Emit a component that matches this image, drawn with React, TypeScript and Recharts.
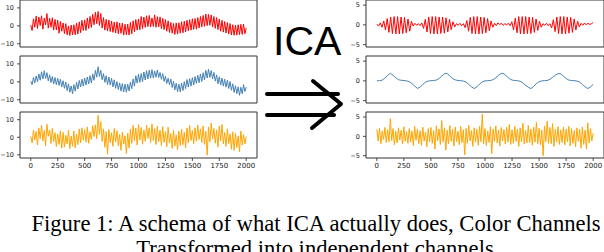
import React from "react";
import { LineChart, Line, XAxis, YAxis, ReferenceArea } from "recharts";

const sampleTicks = [0, 250, 500, 750, 1000, 1250, 1500, 1750, 2000];
const mixedTicks = [-10, 0, 10];
const sourceTicks = [-5, 0, 5];
const mixedDomain: [number, number] = [-11.8, 14.4];
const sourceDomain: [number, number] = [-5.6, 6.3];

// observed colour channels (mixtures), one value every 12.5 samples
const mixedRed = [
  0.4, -2.6, 3.9, -0.8, 5.4, -1.5, 4.9, 0.2,
  5.6, -1.9, 4.3, 0.5, 6.8, -1.3, 4.2, -0.8,
  4.5, -2.4, 3.6, -2.3, 3.1, -4.1, 2.4, -3.0,
  1.6, -4.3, 1.2, -5.0, -0.1, -5.4, 0.4, -5.1,
  0.6, -5.0, 1.5, -4.6, 2.2, -3.8, 3.1, -2.6,
  3.3, -2.6, 4.4, -1.5, 5.2, -0.9, 6.4, 0.6,
  7.6, 1.2, 8.0, 0.2, 6.9, -1.2, 4.6, -2.4,
  3.6, -2.9, 3.3, -3.2, 2.7, -3.6, 2.1, -4.0,
  2.2, -4.4, 1.6, -4.2, 1.5, -5.2, 0.9, -5.0,
  0.9, -5.1, 1.9, -4.4, 2.8, -3.3, 3.5, -2.4,
  3.8, -2.2, 5.2, -1.5, 4.9, -0.9, 5.6, -0.5,
  5.8, -0.6, 4.4, -0.3, 6.1, -0.8, 5.1, -0.6,
  5.0, -1.6, 4.2, -2.1, 3.5, -3.0, 2.8, -3.7,
  1.9, -4.1, 1.3, -4.8, 1.6, -4.6, 1.7, -4.1,
  2.3, -3.9, 2.6, -3.4, 3.1, -2.8, 3.4, -2.4,
  3.9, -2.0, 4.1, -1.9, 4.6, -1.2, 5.2, -0.6,
  5.8, -0.3, 6.6, 0.1, 6.3, 0.3, 6.1, -0.6,
  5.2, -1.4, 4.6, -2.1, 3.8, -3.0, 3.1, -3.5,
  2.4, -4.0, 1.8, -4.6, 1.3, -5.1, 0.6, -5.3,
  0.4, -5.2, 0.6, -4.9, 0.8, -4.8, 1.0, -4.4,
  -1.2,
];

const mixedBlue = [
  0.3, -1.6, 2.4, -0.6, 3.3, 0.1, 4.4, 0.9,
  5.6, 1.6, 6.2, 1.9, 5.1, 0.5, 3.9, -0.4,
  3.0, -1.2, 2.4, -1.6, 2.0, -2.0, 1.5, -2.8,
  0.6, -3.6, -0.1, -4.9, -1.1, -5.8, -2.3, -6.6,
  -1.6, -5.2, -0.3, -4.0, 0.8, -2.9, 1.5, -2.4,
  2.1, -1.8, 2.7, -1.2, 3.4, -0.6, 4.4, 0.9,
  6.4, 2.6, 8.4, 3.0, 6.4, 1.2, 4.6, -0.3,
  3.4, -1.5, 2.7, -1.8, 2.0, -2.8, 1.1, -3.6,
  0.1, -4.3, -0.6, -5.2, -1.0, -5.6, -1.2, -5.8,
  -1.3, -5.1, -0.2, -3.8, 1.6, -2.4, 3.4, -0.7,
  4.2, -0.3, 4.6, 0.1, 5.5, 1.0, 6.2, 1.6,
  6.5, 2.0, 6.8, 2.1, 6.0, 2.6, 6.6, 2.4,
  5.2, 1.4, 4.6, 0.2, 3.1, -0.9, 2.0, -1.6,
  1.6, -3.2, 0.3, -4.5, -0.8, -5.5, -1.3, -5.6,
  -0.7, -4.9, 0.1, -3.8, 1.3, -2.9, 1.8, -2.4,
  2.3, -1.8, 2.9, -0.9, 3.7, -0.5, 4.4, 0.2,
  5.1, 1.0, 6.4, 2.1, 7.0, 2.5, 6.3, 1.6,
  5.3, 0.4, 3.9, -1.1, 2.8, -1.8, 2.1, -2.4,
  1.5, -3.0, 0.9, -3.7, 0.2, -4.7, -1.1, -5.9,
  -2.2, -6.6, -2.8, -7.5, -3.0, -6.7, -1.6, -5.4,
  -3.0,
];

const mixedOrange = [
  0.5, -3.2, 4.1, -1.5, 3.3, -4.4, 5.2, -0.8,
  6.8, -2.1, 3.9, -4.9, 7.4, 0.6, 4.2, -3.6,
  5.1, -2.4, 2.6, -5.3, 1.9, -4.1, 3.7, -6.2,
  2.8, -5.6, 1.1, -3.8, 4.0, -6.4, 0.7, -5.1,
  3.6, -6.0, 1.8, -4.2, 4.7, -3.1, 5.4, -1.6,
  4.3, -2.8, 5.9, -3.4, 3.1, -1.2, 6.6, 0.4,
  7.1, -0.8, 12.5, 1.6, 8.9, -2.3, 4.8, -5.7,
  3.2, -9.6, 4.4, -3.1, 2.5, -5.2, 5.0, -2.7,
  3.8, -4.9, 1.6, -7.4, 2.9, -3.8, 0.9, -9.2,
  2.3, -6.1, 4.6, -3.5, 6.8, -2.0, 5.3, -4.4,
  7.2, -1.5, 5.6, -3.9, 4.1, -2.2, 6.9, -0.6,
  5.4, -3.0, 7.6, -1.8, 4.9, -4.1, 6.3, -2.4,
  4.0, -4.6, 6.1, -2.9, 3.2, -5.4, 5.7, -3.3,
  2.1, -6.3, 3.9, -5.0, 1.4, -7.1, 3.5, -4.7,
  4.6, -4.2, 2.8, -6.0, 5.3, -3.1, 6.7, -1.9,
  3.9, -3.6, 5.4, -2.2, 7.0, -1.3, 4.8, -3.0,
  6.5, -4.0, 3.4, -10.2, 5.9, -2.6, 8.1, -1.0,
  5.0, -3.4, 4.2, -5.6, 6.4, -2.1, 7.3, -3.7,
  2.7, -5.2, 4.8, -3.6, 1.9, -6.8, 3.1, -7.5,
  2.2, -5.9, 0.8, -8.3, 3.6, -4.4, 1.5, -3.8,
  0.4,
];

// recovered independent components
// amplitude-modulated oscillation, one value every 16 samples
const sourceRed = [
  0.2, -0.3, 0.5, -0.6, 1.0, -1.3, 1.6, -1.9, 2.0, -2.2, 2.1, -2.3, 2.1, -2.3, 2.0, -2.2, 1.9, -2.0, 1.5, -1.6, 0.9,
  -0.3, 0.4, -0.1, 0.3, -0.2, 0.5,
  -0.9, 1.4, -1.8, 2.0, -2.2, 2.1, -2.3, 2.1, -2.3, 2.0, -2.2, 2.0, -2.1, 1.8, -1.8, 1.4, -1.2, 0.8, -0.5,
  0.3, -0.1, 0.4, -0.2, 0.3,
  -0.7, 1.1, -1.6, 1.9, -2.2, 2.1, -2.3, 2.1, -2.3, 2.0, -2.2, 1.9, -2.0, 1.6, -1.5, 1.0, -0.6,
  0.4, -0.2, 0.5, 0.1, 0.4, -0.1, 0.3, 0.0, 0.4, -0.2,
  0.8, -1.3, 1.7, -2.0, 2.1, -2.3, 2.1, -2.3, 2.1, -2.2, 2.0, -2.2, 1.9, -1.9, 1.5, -1.4, 0.9, -0.6,
  0.3, -0.1, 0.4, -0.2, 0.3,
  -0.8, 1.3, -1.7, 2.0, -2.2, 2.1, -2.3, 2.1, -2.3, 2.0, -2.1, 1.9, -1.9, 1.5, -1.3, 0.9, -0.5,
  0.4, -0.1, 0.5, 0.0, 0.4, 0.1, 0.3, 0.6,
];

// slow peaked wave, one value every 25 samples
const sourceBlue = [
  0.0, 0.05, 0.2, 0.7, 1.4, 1.95, 1.4, 0.8, 0.3, 0.15,
  0.1, 0.0, -0.2, -0.7, -1.3, -1.9, -1.6, -0.9, -0.3, -0.05,
  0.05, 0.1, 0.2, 0.6, 1.2, 1.8, 1.9, 1.2, 0.6, 0.25,
  0.1, 0.05, -0.05, -0.3, -0.9, -1.5, -1.95, -1.5, -0.8, -0.25,
  0.0, 0.05, 0.1, 0.3, 0.8, 1.4, 1.9, 1.8, 1.2, 0.6,
  0.2, 0.1, 0.05, -0.1, -0.5, -1.1, -1.6, -1.95, -1.4, -0.7,
  -0.2, 0.0, 0.05, 0.1, 0.4, 0.9, 1.4, 1.85, 1.8, 1.2,
  0.6, 0.2, 0.1, 0.05, -0.05, -0.3, -0.9, -1.5, -1.95, -1.5,
  -0.9,
];

// noise component, one value every 12.5 samples
const sourceOrange = [
  1.8, -1.2, 2.1, -1.9, 1.4, -0.8, 2.3, -1.6,
  1.7, -1.4, 4.6, -1.1, 2.0, -2.2, 1.3, -1.7,
  2.2, -0.9, 1.6, -2.0, 2.5, -1.3, 1.2, -1.8,
  2.0, -1.5, 1.4, -2.4, 2.6, -1.0, 1.8, -1.9,
  1.5, -2.3, 2.4, -1.2, 1.1, -2.7, 2.0, -1.4,
  2.3, -1.8, 1.5, -3.3, 2.7, -1.1, 1.9, -2.1,
  4.1, -1.5, 2.2, -3.6, 1.6, -1.9, 2.8, -1.3,
  1.9, -2.5, 2.4, -1.4, 1.3, -2.2, 2.6, -1.6,
  1.7, -4.8, 2.1, -1.8, 2.9, -1.2, 1.5, -2.6,
  2.2, -1.5, 1.8, -2.3, 2.6, -1.4, 5.8, -1.9,
  2.0, -2.4, 1.4, -1.6, 2.5, -4.5, 1.9, -1.3,
  2.7, -1.7, 1.6, -2.5, 2.3, -1.2, 1.8, -2.0,
  2.4, -1.5, 3.1, -2.1, 1.7, -1.8, 2.6, -1.3,
  1.9, -2.6, 2.2, -1.4, 3.4, -2.0, 1.5, -1.7,
  2.8, -1.6, 1.9, -2.3, 2.4, -1.5, 3.6, -1.9,
  2.1, -2.2, 1.6, -5.0, 2.7, -1.4, 3.9, -1.8,
  2.3, -1.9, 3.3, -2.6, 1.8, -1.5, 2.5, -2.1,
  1.7, -1.6, 2.4, -2.2, 1.9, -1.4, 2.6, -2.5,
  2.0, -1.8, 1.5, -2.7, 2.2, -1.3, 1.8, -3.0,
  2.4, -2.1, 1.6, -3.3, 3.5, -1.7, 2.0, -1.2,
  0.8,
];

const toRows = (vals: number[]) =>
  vals.map((v, i) => ({ x: (i * 2000) / (vals.length - 1), y: v }));

const minus = (v: number) => String(v).replace("-", "\u2212");

const tickFont = { fontSize: 6.5, fill: "#222", fontFamily: "DejaVu Sans" };

type PanelProps = {
  values: number[];
  color: string;
  left: number;
  top: number;
  width: number;
  plotHeight: number;
  axisWidth: number;
  rightGap: number;
  domain: [number, number];
  yTicks: number[];
  labels?: boolean;
};

const Panel = ({
  values,
  color,
  left,
  top,
  width,
  plotHeight,
  axisWidth,
  rightGap,
  domain,
  yTicks,
  labels,
}: PanelProps) => {
  const xAxisHeight = labels ? 14 : 4;
  return (
    <div style={{ position: "absolute", left, top: top - 1 }}>
      <LineChart
        width={width}
        height={plotHeight + 1 + xAxisHeight}
        data={toRows(values)}
        margin={{ top: 1, right: rightGap, bottom: 0, left: 0 }}
      >
        <XAxis
          type="number"
          dataKey="x"
          domain={[-100, 2100]}
          ticks={sampleTicks}
          height={xAxisHeight}
          axisLine={false}
          tickSize={3}
          tickMargin={2}
          tickLine={{ stroke: "#222", strokeWidth: 0.8 }}
          tick={labels ? { ...tickFont, fontSize: 7 } : false}
          allowDataOverflow
        />
        <YAxis
          type="number"
          domain={domain}
          ticks={yTicks}
          width={axisWidth}
          axisLine={false}
          tickSize={3}
          tickMargin={3}
          tickLine={{ stroke: "#222", strokeWidth: 0.8 }}
          tick={tickFont}
          tickFormatter={minus}
          allowDataOverflow
        />
        <ReferenceArea
          x1={-100}
          x2={2100}
          y1={domain[0]}
          y2={domain[1]}
          fill="none"
          fillOpacity={0}
          stroke="#333"
          strokeWidth={1}
          strokeOpacity={1}
        />
        <Line
          type="linear"
          dataKey="y"
          stroke={color}
          strokeWidth={1}
          dot={false}
          isAnimationActive={false}
        />
      </LineChart>
    </div>
  );
};

const rows = [
  { top: 0, plotHeight: 47 },
  { top: 56, plotHeight: 47 },
  { top: 112, plotHeight: 46 },
];

const App: React.FC = () => {
  const mixed = [mixedRed, mixedBlue, mixedOrange];
  const sources = [sourceRed, sourceBlue, sourceOrange];
  const colors = ["#ff0000", "#4682b4", "#ffa500"];
  return (
    <div
      style={{
        position: "absolute",
        left: 0,
        top: 0,
        width: 604,
        height: 252,
        background: "#fff",
        overflow: "hidden",
      }}
    >
      {rows.map((r, i) => (
        <Panel
          key={"m" + i}
          values={mixed[i]}
          color={colors[i]}
          left={0}
          top={r.top}
          width={258}
          plotHeight={r.plotHeight}
          axisWidth={20}
          rightGap={1}
          domain={mixedDomain}
          yTicks={mixedTicks}
          labels={i === 2}
        />
      ))}
      {rows.map((r, i) => (
        <Panel
          key={"s" + i}
          values={sources[i]}
          color={colors[i]}
          left={330}
          top={r.top}
          width={274}
          plotHeight={r.plotHeight}
          axisWidth={36}
          rightGap={0}
          domain={sourceDomain}
          yTicks={sourceTicks}
          labels={i === 2}
        />
      ))}
      <svg
        width={604}
        height={252}
        style={{ position: "absolute", left: 0, top: 0, pointerEvents: "none" }}
      >
        <text x={273} y={55} fontFamily="Liberation Sans" fontSize={41} fill="#000">
          ICA
        </text>
        <g stroke="#000" strokeWidth={4} strokeLinecap="round" strokeLinejoin="round" fill="none">
          <line x1={267} y1={94} x2={338} y2={94} />
          <line x1={267} y1={115} x2={334} y2={115} />
          <polyline points="313,81 341,104 312,128" />
        </g>
        <text
          x={316}
          y={231}
          textAnchor="middle"
          fontFamily="Liberation Serif"
          fontSize={22.6}
          fill="#000"
        >
          Figure 1: A schema of what ICA actually does, Color Channels
        </text>
        <text
          x={315}
          y={256}
          textAnchor="middle"
          fontFamily="Liberation Serif"
          fontSize={22.6}
          fill="#000"
        >
          Transformed into independent channels
        </text>
      </svg>
    </div>
  );
};

export default App;
